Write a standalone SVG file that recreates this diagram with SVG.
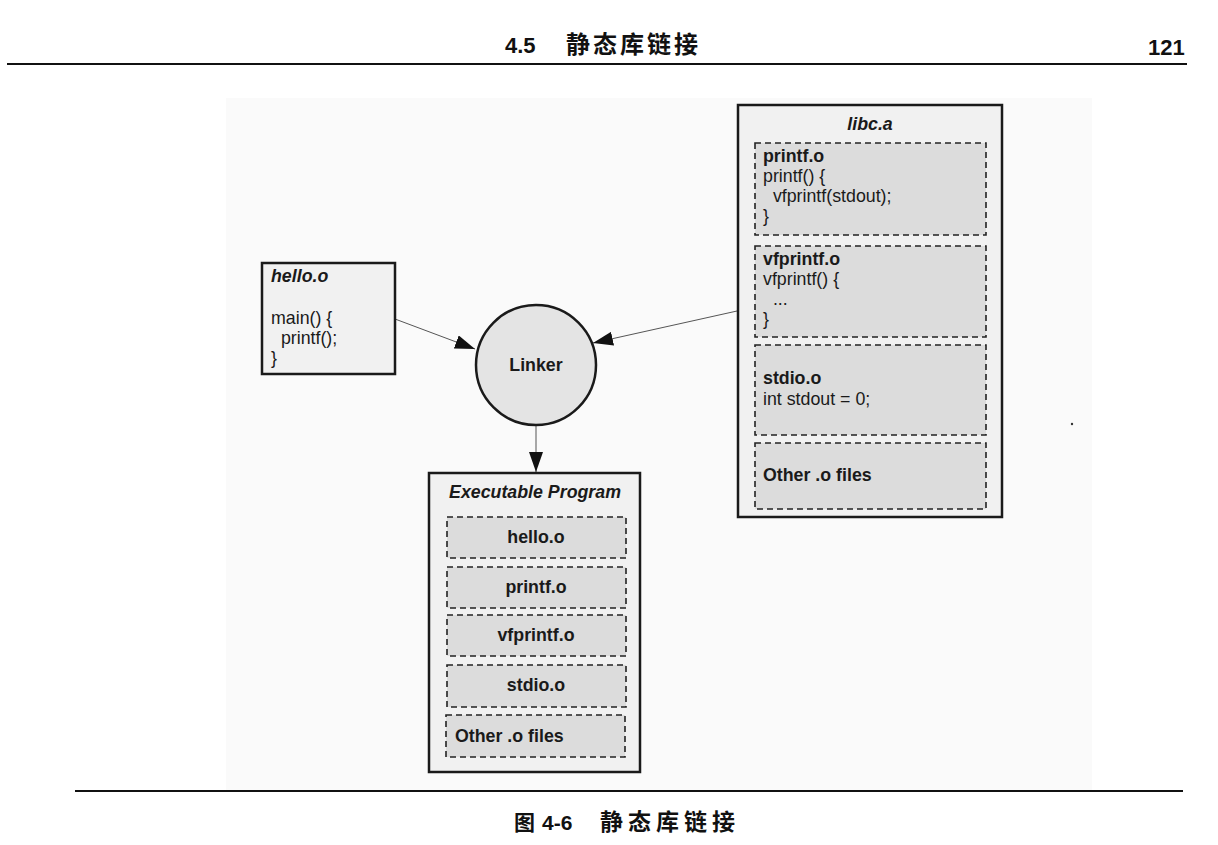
<svg xmlns="http://www.w3.org/2000/svg" width="1218" height="845" viewBox="0 0 1218 845">
<style>
.t{font-family:"Liberation Sans",Arial,sans-serif;font-size:17.8px;fill:#1a1a1a}
.b{font-weight:bold}
.bi{font-weight:bold;font-style:italic}
.outer{fill:#f1f1f1;stroke:#1a1a1a;stroke-width:2.5}
.inner{fill:#dcdcdc;stroke:#222;stroke-width:1.6;stroke-dasharray:6 4}
.conn{stroke:#555;stroke-width:1;fill:none}
.cjk{font-family:"Liberation Sans","Noto Sans CJK SC",sans-serif;font-weight:bold;fill:#111}
</style>
<defs>
<marker id="ah" viewBox="0 0 20 14" refX="20" refY="7" markerWidth="20" markerHeight="14" markerUnits="userSpaceOnUse" orient="auto">
<path d="M0,0 L20,7 L0,14 Z" fill="#111"/>
</marker>
</defs>
<rect width="1218" height="845" fill="#ffffff"/>
<rect x="226" y="98" width="866" height="692" fill="#fafafa"/>
<g id="header">
<text class="cjk" x="505" y="53" font-size="22">4.5</text>
<text class="cjk" x="566" y="53" font-size="24" letter-spacing="3">静态库链接</text>
<text class="cjk" x="1148" y="55" font-size="22">121</text>
<line x1="7" y1="64" x2="1187" y2="64" stroke="#111" stroke-width="2"/>
</g>
<g id="connectors">
<line class="conn" x1="395" y1="319" x2="475" y2="349" marker-end="url(#ah)"/>
<line class="conn" x1="737" y1="311" x2="593" y2="343" marker-end="url(#ah)"/>
<line class="conn" x1="536" y1="425" x2="536" y2="472" marker-end="url(#ah)"/>
</g>
<g id="hello">
<rect class="outer" x="262" y="263" width="133" height="111" fill="#f3f3f3"/>
<text class="t bi" x="271" y="282">hello.o</text>
<text class="t" x="271" y="324">main() {</text>
<text class="t" x="271" y="344" xml:space="preserve">  printf();</text>
<text class="t" x="271" y="364">}</text>
</g>
<g id="linker">
<circle cx="536" cy="365" r="60" fill="#e4e4e4" stroke="#1a1a1a" stroke-width="2.5"/>
<text class="t b" x="536" y="371" text-anchor="middle">Linker</text>
</g>
<g id="libc">
<rect class="outer" x="738" y="105" width="264" height="412"/>
<text class="t bi" x="870" y="130" text-anchor="middle">libc.a</text>
<rect class="inner" x="755" y="143" width="231" height="92"/>
<text class="t b" x="763" y="162">printf.o</text>
<text class="t" x="763" y="182">printf() {</text>
<text class="t" x="763" y="202" xml:space="preserve">  vfprintf(stdout);</text>
<text class="t" x="763" y="222">}</text>
<rect class="inner" x="755" y="246" width="231" height="91"/>
<text class="t b" x="763" y="265">vfprintf.o</text>
<text class="t" x="763" y="285">vfprintf() {</text>
<text class="t" x="763" y="305" xml:space="preserve">  ...</text>
<text class="t" x="763" y="325">}</text>
<rect class="inner" x="755" y="345" width="231" height="90"/>
<text class="t b" x="763" y="384">stdio.o</text>
<text class="t" x="763" y="405">int stdout = 0;</text>
<rect class="inner" x="755" y="443" width="231" height="66"/>
<text class="t b" x="763" y="481">Other .o files</text>
</g>
<g id="exec">
<rect class="outer" x="429" y="473" width="211" height="299"/>
<text class="t bi" x="535" y="498" text-anchor="middle">Executable Program</text>
<rect class="inner" x="447" y="517" width="179" height="41"/>
<text class="t b" x="536" y="543" text-anchor="middle">hello.o</text>
<rect class="inner" x="447" y="567" width="179" height="41"/>
<text class="t b" x="536" y="593" text-anchor="middle">printf.o</text>
<rect class="inner" x="447" y="615" width="179" height="41"/>
<text class="t b" x="536" y="641" text-anchor="middle">vfprintf.o</text>
<rect class="inner" x="447" y="665" width="179" height="42"/>
<text class="t b" x="536" y="691" text-anchor="middle">stdio.o</text>
<rect class="inner" x="446" y="715" width="179" height="42"/>
<text class="t b" x="455" y="742">Other .o files</text>
</g>
<circle cx="1072" cy="424" r="1.2" fill="#333"/>
<g id="footer">
<line x1="75" y1="791" x2="1183" y2="791" stroke="#111" stroke-width="2"/>
<text class="cjk" x="514" y="830" font-size="21">图</text>
<text class="cjk" x="542" y="830" font-size="21">4-6</text>
<text class="cjk" x="600" y="830" font-size="23" letter-spacing="5">静态库链接</text>
</g>
</svg>
